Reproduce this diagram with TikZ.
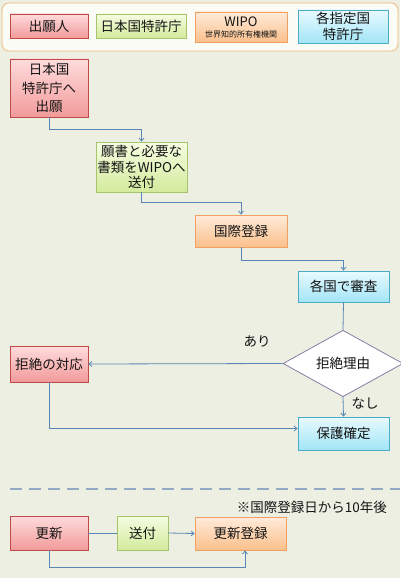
\documentclass[tikz,border=0pt]{standalone}
\usepackage{fontspec}
\setmainfont{Noto Sans CJK JP}
\usetikzlibrary{shapes.geometric,arrows.meta,calc}
\definecolor{bgc}{HTML}{EDEFE2}
\definecolor{lgfill}{HTML}{FCFCF7}
\definecolor{lgdraw}{HTML}{EDB87A}
\definecolor{redT}{HTML}{FFDCDC}
\definecolor{redB}{HTML}{F29A9A}
\definecolor{redD}{HTML}{BE4B48}
\definecolor{grnT}{HTML}{F5FCE2}
\definecolor{grnB}{HTML}{D3EB9C}
\definecolor{grnD}{HTML}{A6C46C}
\definecolor{orgT}{HTML}{FFEBDA}
\definecolor{orgB}{HTML}{FBC08C}
\definecolor{orgD}{HTML}{F2A062}
\definecolor{bluT}{HTML}{E8FAFF}
\definecolor{bluB}{HTML}{A2E5F7}
\definecolor{bluD}{HTML}{4BACC6}
\definecolor{arc}{HTML}{5A86B6}
\definecolor{dia}{HTML}{8A7BA6}
\definecolor{dsh}{HTML}{93ABC2}
\tikzset{
  box/.style={rectangle, draw, line width=0.8pt, inner sep=1pt, align=center, font=\fontsize{13.5}{18.5}\selectfont, text=black!92},
  redbox/.style={box, draw=redD, top color=redT, bottom color=redB},
  grnbox/.style={box, draw=grnD, top color=grnT, bottom color=grnB},
  orgbox/.style={box, draw=orgD, top color=orgT, bottom color=orgB},
  blubox/.style={box, draw=bluD, top color=bluT, bottom color=bluB},
  arr/.style={draw=arc, line width=0.8pt, -{Straight Barb[length=3pt,width=5pt]}},
  ln/.style={draw=arc, line width=0.8pt},
  lbl/.style={font=\fontsize{13.5}{16}\selectfont, text=black!92, inner sep=0}
}
\begin{document}
\begin{tikzpicture}[x=1pt,y=-1pt]
\fill[bgc] (0,0) rectangle (400,578);
\useasboundingbox (0,0) rectangle (400,578);
% legend
\draw[lgdraw, fill=lgfill, line width=0.8pt, rounded corners=7pt] (2,3) rectangle (398,51);
\node[redbox, minimum width=78pt, minimum height=24pt] (l1) at (49,26) {出願人};
\node[grnbox, minimum width=90pt, minimum height=24pt] (l2) at (141,26) {日本国特許庁};
\node[orgbox, minimum width=92pt, minimum height=30pt, font=\fontsize{13}{12}\selectfont] (l3) at (241,27) {WIPO\\[-1pt]{\fontsize{8}{9}\selectfont 世界知的所有権機関}};
\node[blubox, minimum width=90pt, minimum height=33pt, font=\fontsize{13.5}{16}\selectfont] (l4) at (343,26.5) {各指定国\\特許庁};
% flow
\node[redbox, minimum width=78pt, minimum height=58pt] (A) at (49,88) {日本国\\特許庁へ\\出願};
\node[grnbox, minimum width=91pt, minimum height=50pt, font=\fontsize{13.5}{15.5}\selectfont] (B) at (141.5,167) {願書と必要な\\書類をWIPOへ\\送付};
\node[orgbox, minimum width=92pt, minimum height=32pt] (C) at (241,231) {国際登録};
\node[blubox, minimum width=91pt, minimum height=31pt] (D) at (343.5,286.5) {各国で審査};
\node[diamond, draw=dia, fill=white, line width=0.8pt, minimum width=120pt, minimum height=61pt, inner sep=0pt, font=\fontsize{13.5}{16}\selectfont, text=black!92] (E) at (343,363.5) {拒絶理由};
\node[redbox, minimum width=78pt, minimum height=36pt] (F) at (49,364) {拒絶の対応};
\node[blubox, minimum width=91pt, minimum height=33pt] (G) at (343.5,433.5) {保護確定};
\draw[arr] (A.south) -- ++(0,12) -| (B.north);
\draw[arr] (B.south) -- ++(0,10) -| (C.north);
\draw[arr] (C.south) -- ++(0,13) -| (D.north);
\draw[ln] (D.south) -- (E.north);
\draw[arr] (E.west) -- (F.east);
\draw[arr] (E.south) -- (G.north);
\coordinate (gw) at ($(G.west)+(0,-5)$);
\draw[arr] (F.south) |- (gw);
\node[lbl] (ari) at (257,341) {あり};
\node[lbl] (nasi) at (365,403) {なし};
% separator
\draw[dsh, line width=1.3pt, dash pattern=on 12pt off 7pt] (10,489) -- (400,489);
\node[lbl, anchor=east, font=\fontsize{13.5}{15}\selectfont] (note) at (387,507) {※国際登録日から10年後};
\node[redbox, minimum width=78pt, minimum height=34pt] (H) at (49,533) {更新};
\node[grnbox, minimum width=51pt, minimum height=34pt] (I) at (142.5,533) {送付};
\node[orgbox, minimum width=91pt, minimum height=33pt] (J) at (240.5,533.5) {更新登録};
\draw[ln] (H.east) -- (I.west);
\draw[arr] (I.east) -- (J.west);
\coordinate (js) at ($(J.south)+(4.5,0)$);
\draw[arr] (H.south) -- ++(0,17) -| (js);
\end{tikzpicture}
\end{document}
